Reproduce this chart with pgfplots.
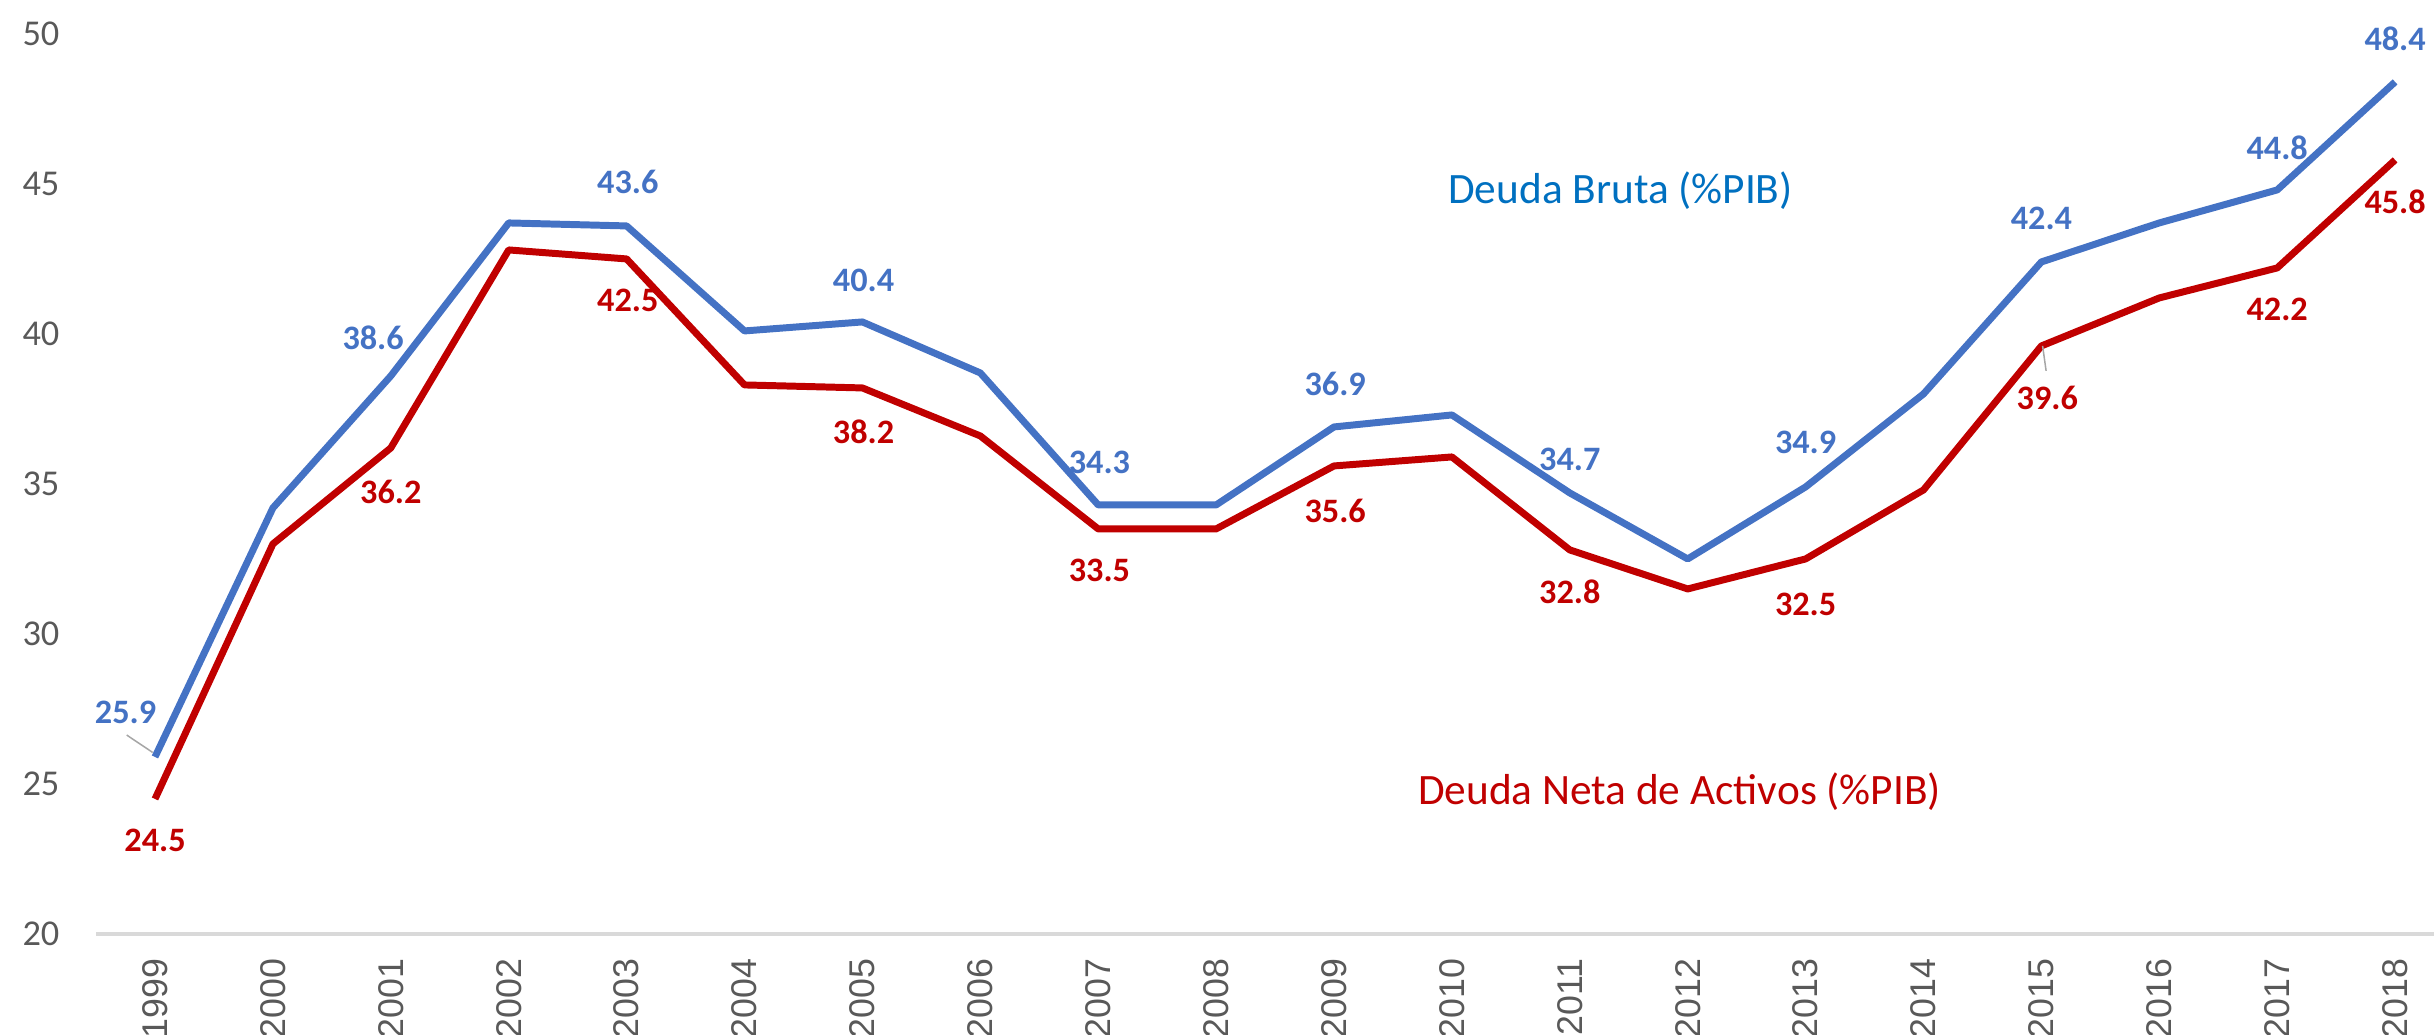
\documentclass[border=0pt]{standalone}
\usepackage{fontspec}
\setmainfont{Carlito}
\newfontfamily\arialf{Liberation Sans}
\usepackage{pgfplots}
\pgfplotsset{compat=1.18}
\definecolor{lblue}{HTML}{4472C4}
\definecolor{lred}{HTML}{C00000}
\definecolor{tblue}{HTML}{0070C0}
\definecolor{tgray}{HTML}{595959}
\definecolor{agray}{HTML}{D9D9D9}
\definecolor{lgray}{HTML}{A6A6A6}
\begin{document}
\begin{tikzpicture}
\begin{axis}[
  scale only axis, width=771.5pt, height=297pt,
  xmin=-0.5, xmax=19.33, ymin=20, ymax=50,
  axis x line*=bottom, axis y line*=left,
  separate axis lines,
  x axis line style={draw=agray, line width=1.15pt, -},
  y axis line style={draw=none},
  major tick length=0pt,
  xtick={0,...,19},
  xticklabels={1999,2000,2001,2002,2003,2004,2005,2006,2007,2008,2009,2010,2011,2012,2013,2014,2015,2016,2017,2018},
  ytick={20,25,30,35,40,45,50},
  /pgf/number format/assume math mode=true,
  yticklabel style={font=\fontsize{12}{12}\selectfont, text=tgray, inner sep=0pt, anchor=east},
  yticklabel shift=11.9pt,
  xticklabel style={font=\arialf\fontsize{11.8}{12}\selectfont, text=tgray, inner sep=0pt, rotate=90, anchor=east},
  xticklabel shift=8pt,
  clip=false,
]
\addplot[lblue, line width=2.3pt, line join=round] coordinates {
(0,25.9) (1,34.2) (2,38.6) (3,43.7) (4,43.6) (5,40.1) (6,40.4) (7,38.7) (8,34.3) (9,34.3)
(10,36.9) (11,37.3) (12,34.7) (13,32.5) (14,34.9) (15,38.0) (16,42.4) (17,43.7) (18,44.8) (19,48.4)};
\addplot[lred, line width=2.3pt, line join=round] coordinates {
(0,24.5) (1,33.0) (2,36.2) (3,42.8) (4,42.5) (5,38.3) (6,38.2) (7,36.6) (8,33.5) (9,33.5)
(10,35.6) (11,35.9) (12,32.8) (13,31.5) (14,32.5) (15,34.8) (16,39.6) (17,41.2) (18,42.2) (19,45.8)};
% leader lines
\draw[lgray, line width=0.5pt] (axis cs:-0.24,26.63) -- (axis cs:-0.02,26.05);
\draw[lgray, line width=0.5pt] (axis cs:16.01,39.6) -- (axis cs:16.04,38.77);
% blue labels
\begin{scope}[every node/.style={font=\bfseries\fontsize{11.3}{12}\selectfont, text=lblue, inner sep=0pt}]
\node at (axis cs:-0.25,27.4) {25.9};
\node at (axis cs:1.85,39.88) {38.6};
\node at (axis cs:4.01,45.07) {43.6};
\node at (axis cs:6.01,41.8) {40.4};
\node at (axis cs:8.01,35.72) {34.3};
\node at (axis cs:10.01,38.33) {36.9};
\node at (axis cs:12.0,35.83) {34.7};
\node at (axis cs:14.0,36.37) {34.9};
\node at (axis cs:16.0,43.85) {42.4};
\node at (axis cs:18.0,46.2) {44.8};
\node at (axis cs:19.0,49.83) {48.4};
\end{scope}
\begin{scope}[every node/.style={font=\bfseries\fontsize{11.3}{12}\selectfont, text=lred, inner sep=0pt}]
\node at (axis cs:0.0,23.13) {24.5};
\node at (axis cs:2.0,34.73) {36.2};
\node at (axis cs:4.01,41.13) {42.5};
\node at (axis cs:6.01,36.73) {38.2};
\node at (axis cs:8.01,32.13) {33.5};
\node at (axis cs:10.01,34.1) {35.6};
\node at (axis cs:12.0,31.42) {32.8};
\node at (axis cs:14.0,31.0) {32.5};
\node at (axis cs:16.05,37.87) {39.6};
\node at (axis cs:18.0,40.83) {42.2};
\node at (axis cs:19.0,44.4) {45.8};
\end{scope}
\node[font=\fontsize{14.3}{16}\selectfont, text=tblue, inner sep=0pt] at (axis cs:12.43,44.77) {Deuda Bruta (\%PIB)};
\node[font=\fontsize{14.3}{16}\selectfont, text=lred, inner sep=0pt] at (axis cs:12.93,24.75) {Deuda Neta de Activos (\%PIB)};
\end{axis}
\pgfresetboundingbox
\path[use as bounding box] ([xshift=-31.7pt,yshift=-33.3pt]current axis.south west) rectangle ([yshift=11.2pt]current axis.north east);
\end{tikzpicture}
\end{document}
